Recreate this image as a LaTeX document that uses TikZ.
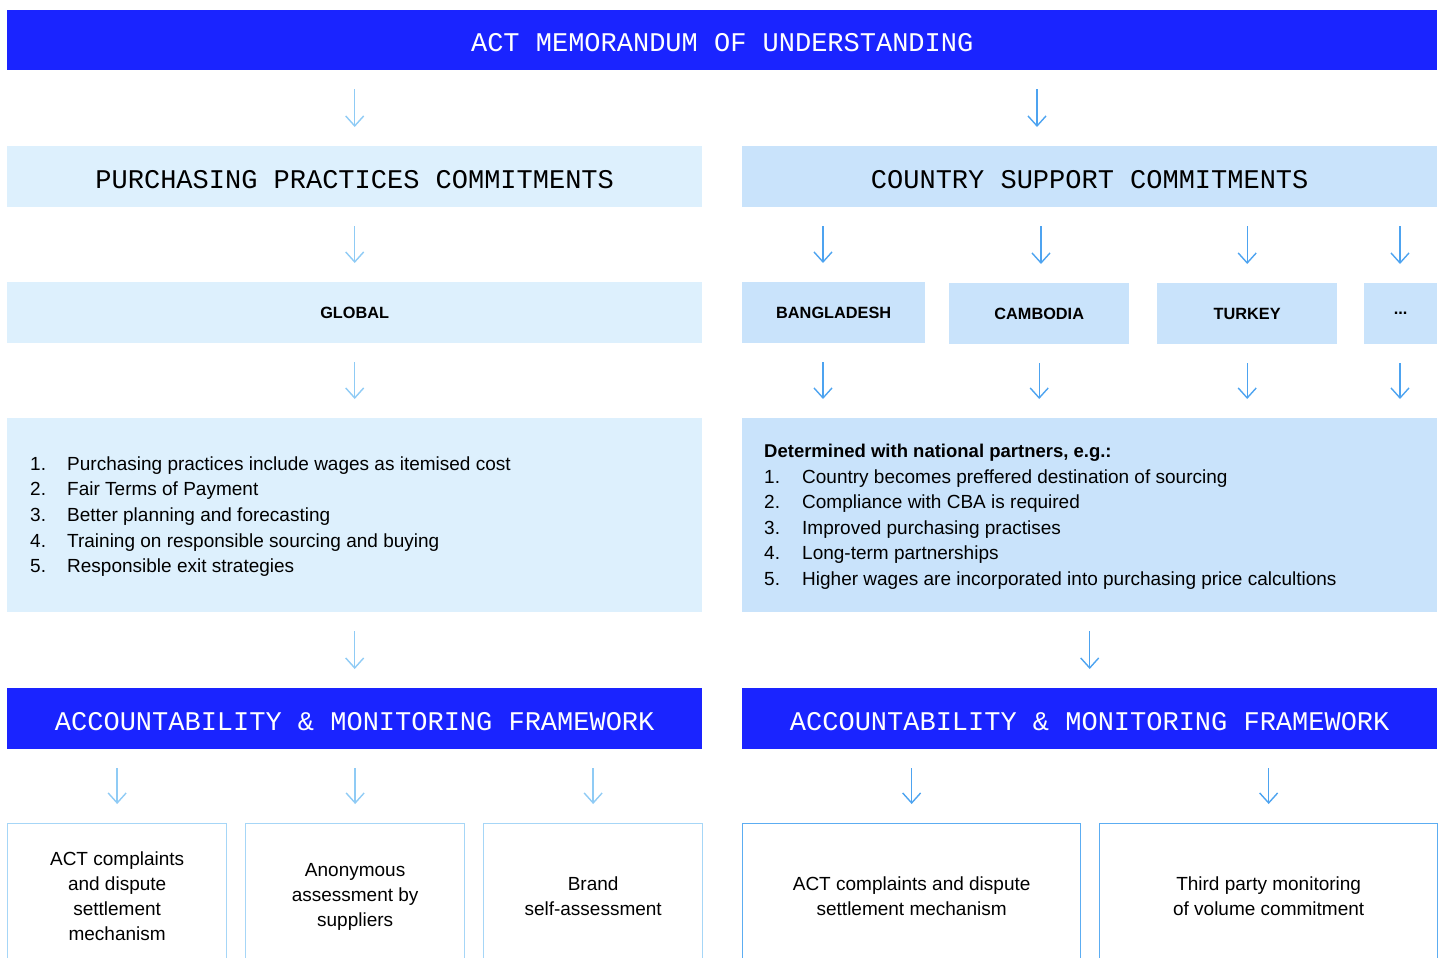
\documentclass[tikz,border=0pt]{standalone}
\usepackage{fontspec}
\setmainfont{Liberation Sans}
\newfontfamily\monof{Liberation Mono}
\usetikzlibrary{arrows.meta}
\definecolor{actblue}{HTML}{1A24FF}
\definecolor{lightL}{HTML}{DDF0FD}
\definecolor{lightR}{HTML}{C9E3FB}
\definecolor{arrL}{HTML}{8FCBF5}
\definecolor{arrR}{HTML}{4DA3F0}
\definecolor{lineL}{HTML}{A6D6F7}
\definecolor{lineR}{HTML}{5CADF2}
\tikzset{
 bar/.style={fill=actblue, text=white, font=\monof\fontsize{27}{30}\selectfont, anchor=north west, inner sep=0, minimum height=61, text height=23pt, text depth=0pt},
 head/.style={font=\monof\fontsize{27}{30}\selectfont, anchor=north west, inner sep=0, minimum height=61, text height=23pt, text depth=0pt},
 lab/.style={font=\bfseries\fontsize{16.3}{19}\selectfont, anchor=north west, inner sep=0, minimum height=61},
 panel/.style={anchor=north west, inner sep=0, minimum height=194, minimum width=695},
 item/.style={font=\fontsize{19}{23}\selectfont, anchor=base west, inner sep=0},
 outbox/.style={draw, line width=1.3, fill=white, anchor=north west, inner sep=0, minimum height=146, align=center, font=\fontsize{19}{25}\selectfont},
 arr/.style={-{Straight Barb[length=10pt,width=18pt]}, line width=1.4, shorten <=19pt, shorten >=19pt},
}
\begin{document}
\begin{tikzpicture}[x=1pt,y=-1pt]
\path[use as bounding box] (0,0) rectangle (1443,958);
\clip (0,0) rectangle (1443,958);
% top bar
\node[bar, minimum width=1430, minimum height=60] (title) at (7,10) {ACT MEMORANDUM OF UNDERSTANDING};
% headings
\node[head, fill=lightL, minimum width=695] (pp) at (7,146) {PURCHASING PRACTICES COMMITMENTS};
\node[head, fill=lightR, minimum width=695] (cs) at (742,146) {COUNTRY SUPPORT COMMITMENTS};
% labels
\node[lab, fill=lightL, minimum width=695] (gl) at (7,282) {GLOBAL};
\node[lab, fill=lightR, minimum width=183] (bd) at (742,282) {BANGLADESH};
\node[lab, fill=lightR, minimum width=180] (kh) at (949,283) {CAMBODIA};
\node[lab, fill=lightR, minimum width=180] (tr) at (1157,283) {TURKEY};
\node[lab, fill=lightR, minimum width=73] (et) at (1364,283) {...};
% panels
\node[panel, fill=lightL] (ll) at (7,418) {};
\node[panel, fill=lightR] (rl) at (742,418) {};
\node[item] (l1n) at (30,470) {1.};
\node[item] (l1) at (67,470) {Purchasing practices include wages as itemised cost};
\node[item] (l2n) at (30,495.5) {2.};
\node[item] (l2) at (67,495.5) {Fair Terms of Payment};
\node[item] (l3n) at (30,521) {3.};
\node[item] (l3) at (67,521) {Better planning and forecasting};
\node[item] (l4n) at (30,547) {4.};
\node[item] (l4) at (67,547) {Training on responsible sourcing and buying};
\node[item] (l5n) at (30,572) {5.};
\node[item] (l5) at (67,572) {Responsible exit strategies};
\node[item, font=\bfseries\fontsize{18.5}{22}\selectfont] (rh) at (764,457) {Determined with national partners, e.g.:};
\node[item] (r1n) at (764,483) {1.};
\node[item] (r1t) at (802,483) {Country becomes preffered destination of sourcing};
\node[item] (r2n) at (764,508) {2.};
\node[item] (r2t) at (802,508) {Compliance with CBA is required};
\node[item] (r3n) at (764,534) {3.};
\node[item] (r3t) at (802,534) {Improved purchasing practises};
\node[item] (r4n) at (764,559) {4.};
\node[item] (r4t) at (802,559) {Long-term partnerships};
\node[item] (r5n) at (764,585) {5.};
\node[item] (r5t) at (802,585) {Higher wages are incorporated into purchasing price calcultions};
% accountability bars
\node[bar, minimum width=695] (amL) at (7,688) {ACCOUNTABILITY \& MONITORING FRAMEWORK};
\node[bar, minimum width=695] (amR) at (742,688) {ACCOUNTABILITY \& MONITORING FRAMEWORK};
% bottom boxes
\node[outbox, draw=lineL, minimum width=219] (b1) at (7,823) {ACT complaints\\and dispute\\settlement\\mechanism};
\node[outbox, draw=lineL, minimum width=219] (b2) at (245,823) {Anonymous\\assessment by\\suppliers};
\node[outbox, draw=lineL, minimum width=219] (b3) at (483,823) {Brand\\self-assessment};
\node[outbox, draw=lineR, minimum width=338] (c1) at (742,823) {ACT complaints and dispute\\settlement mechanism};
\node[outbox, draw=lineR, minimum width=338] (c2) at (1099,823) {Third party monitoring\\of volume commitment};
% arrows
\draw[arr, arrL] (title.south -| pp.north) -- (pp.north);
\draw[arr, arrR] (title.south -| 1037,0) -- (cs.north -| 1037,0);
\draw[arr, arrL] (pp.south) -- (gl.north);
\draw[arr, arrR] (cs.south -| 823,0) -- (bd.north -| 823,0);
\draw[arr, arrR] (cs.south -| 1041,0) -- (kh.north -| 1041,0);
\draw[arr, arrR] (cs.south -| tr.north) -- (tr.north);
\draw[arr, arrR] (cs.south -| 1400,0) -- (et.north -| 1400,0);
\draw[arr, arrL] (gl.south) -- (ll.north);
\draw[arr, arrR] (bd.south -| 823,0) -- (rl.north -| 823,0);
\draw[arr, arrR] (kh.south) -- (rl.north -| kh.south);
\draw[arr, arrR] (tr.south) -- (rl.north -| tr.south);
\draw[arr, arrR] (et.south -| 1400,0) -- (rl.north -| 1400,0);
\draw[arr, arrL] (ll.south) -- (amL.north);
\draw[arr, arrR] (rl.south) -- (amR.north);
\draw[arr, arrL] (amL.south -| b1.north) -- (b1.north);
\draw[arr, arrL] (amL.south -| b2.north) -- (b2.north);
\draw[arr, arrL] (amL.south -| b3.north) -- (b3.north);
\draw[arr, arrR] (amR.south -| c1.north) -- (c1.north);
\draw[arr, arrR] (amR.south -| c2.north) -- (c2.north);
\end{tikzpicture}
\end{document}
